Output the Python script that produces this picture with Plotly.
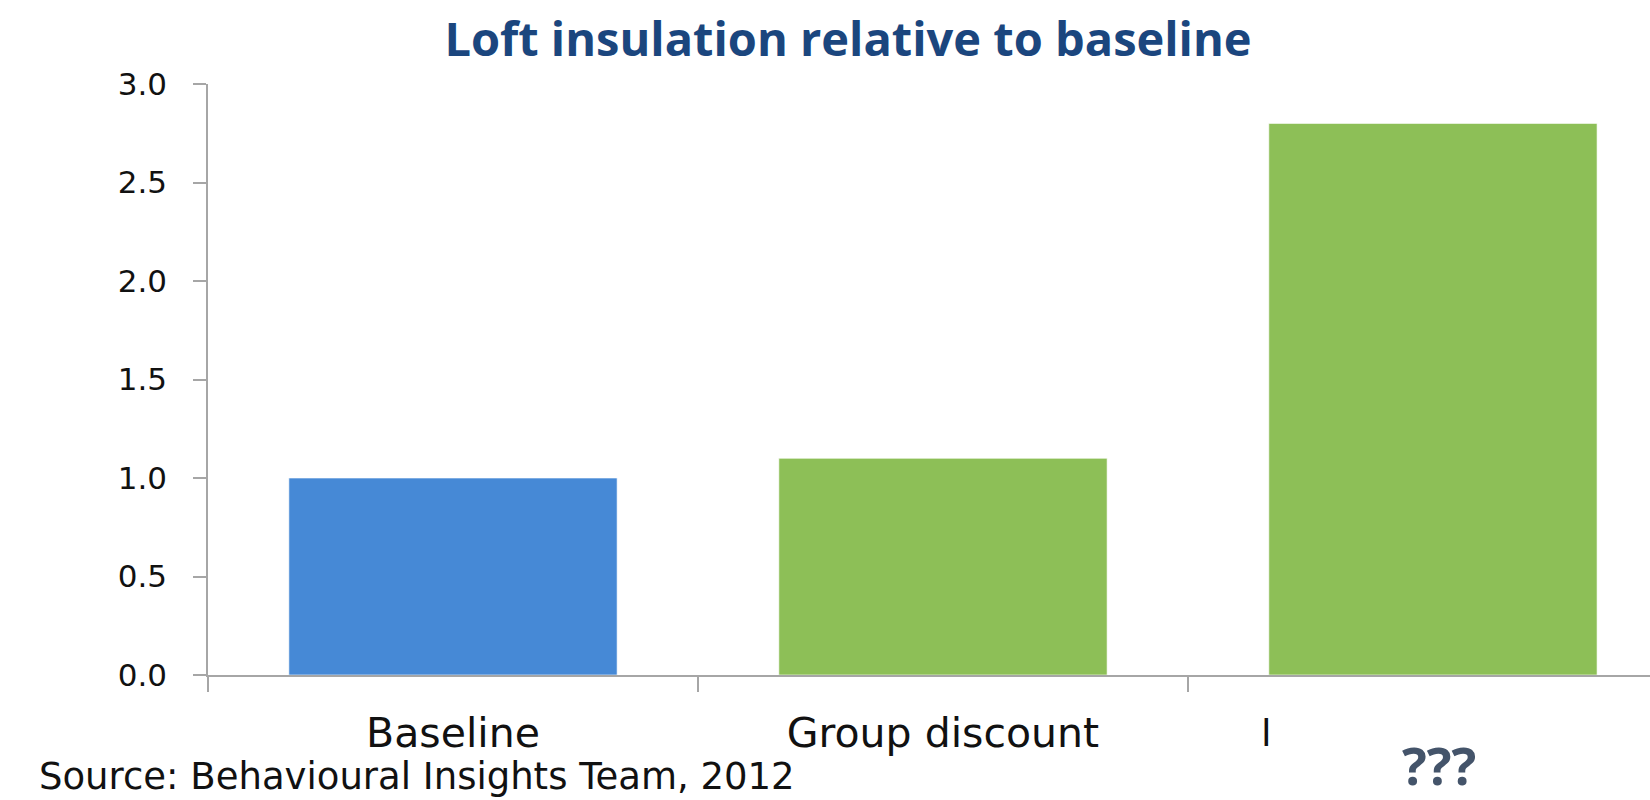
import plotly.graph_objects as go

categories = ["Baseline", "Group discount", "Loft clearance"]
tick_labels = ["Baseline", "Group discount", ""]
values = [1.0, 1.1, 2.8]
bar_colors = ["#4689D6", "#8DBF57", "#8DBF57"]
y_ticks = [0, 0.5, 1.0, 1.5, 2.0, 2.5, 3.0]
y_tick_labels = ["0.0", "0.5", "1.0", "1.5", "2.0", "2.5", "3.0"]

fig = go.Figure()
fig.add_trace(go.Bar(
    x=categories, y=values,
    marker=dict(color=bar_colors, line=dict(color="rgba(255,255,255,0.6)", width=1)),
    showlegend=False, hoverinfo="x+y",
))

axis_gray = "#A6A6A6"
fig.update_layout(
    width=1650, height=800,
    margin=dict(l=208, r=0, t=84, b=125),
    paper_bgcolor="white", plot_bgcolor="white",
    bargap=0.33,
    title=dict(text="<b>Loft insulation relative to baseline</b>",
               x=848/1650, xanchor="center", y=1-40/800, yanchor="middle",
               font=dict(family="Open Sans", size=47, color="#1B467E")),
    xaxis=dict(type="category", range=[-0.5, 2.443], tickson="boundaries",
               tickmode="array", tickvals=categories, ticktext=tick_labels,
               ticks="outside", ticklen=15, tickcolor=axis_gray, tickwidth=1.5,
               showline=True, linecolor=axis_gray, linewidth=1.5,
               showgrid=False, zeroline=False,
               tickfont=dict(family="DejaVu Sans", size=41, color="#111111"),
               ticklabelstandoff=21),
    yaxis=dict(range=[0, 3], tickvals=y_ticks, ticktext=y_tick_labels,
               ticks="outside", ticklen=13, tickcolor=axis_gray, tickwidth=1.5,
               showline=True, linecolor=axis_gray, linewidth=1.5,
               showgrid=False, zeroline=False,
               tickfont=dict(family="DejaVu Sans", size=31, color="#111111"),
               ticklabelstandoff=20),
    annotations=[
        dict(text="Source: Behavioural Insights Team, 2012", xref="paper", yref="paper",
             x=(37-208)/1442, y=0, xanchor="left", yanchor="middle",
             yshift=-(776-675), showarrow=False,
             font=dict(family="DejaVu Sans", size=37, color="#111111")),
        dict(text="l", xref="x", yref="paper", x=1.66, y=0, xanchor="center",
             yanchor="middle", yshift=-(733-675), showarrow=False,
             font=dict(family="DejaVu Sans", size=38, color="#111111")),
        dict(text="<b>???</b>", xref="paper", yref="paper", x=(1439-208)/1442, y=0,
             xanchor="center", yanchor="middle", yshift=-(764-675), showarrow=False,
             font=dict(family="Open Sans", size=52, color="#44546A")),
    ],
)

fig.write_html("out.html")
